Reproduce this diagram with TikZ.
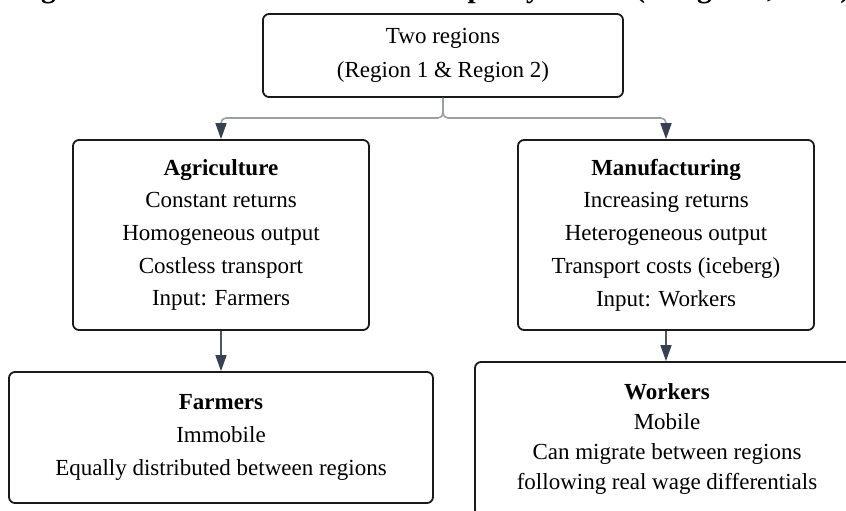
\documentclass[tikz,border=0pt]{standalone}
\usepackage{fontspec}
\setmainfont{Liberation Serif}
\usetikzlibrary{arrows.meta}
\definecolor{boxblack}{HTML}{1A1A1A}
\definecolor{linegray}{HTML}{9CA0A6}
\definecolor{linedark}{HTML}{4B5563}
\definecolor{tipdark}{HTML}{374151}
\begin{document}
\begin{tikzpicture}[x=1pt,y=-1pt,
  box/.style={draw=boxblack, line width=1.8pt, rounded corners=6pt, inner sep=0pt,
    align=center, fill=white, font=\fontsize{23}{32.7}\selectfont},
  conn/.style={line width=1.6pt, -{Triangle[length=16pt,width=11pt,color=tipdark]}},
  ]
\useasboundingbox (0,0) rectangle (846,511);
\node[anchor=base west, inner sep=0pt, font=\fontsize{29.3}{30}\selectfont\bfseries] (title) at (15,-2.5)
  {Figure 1: Structure of the Core-Periphery Model (Krugman, 1991)};
\node[box, minimum width=360pt, minimum height=83pt, font=\fontsize{23}{34}\selectfont] (top) at (443,55.5)
  {Two regions\\(Region 1 \& Region 2)};
\node[box, minimum width=296pt, minimum height=190pt] (agri) at (221,235)
  {\textbf{Agriculture}\\Constant returns\\Homogeneous output\\Costless transport\\Input: Farmers};
\node[box, minimum width=296pt, minimum height=190pt] (manuf) at (666,235)
  {\textbf{Manufacturing}\\Increasing returns\\Heterogeneous output\\Transport costs (iceberg)\\Input: Workers};
\node[box, minimum width=424pt, minimum height=131pt] (farm) at (221,437.5)
  {\textbf{Farmers}\\Immobile\\Equally distributed between regions};
\node[box, minimum width=384pt, minimum height=154pt, font=\fontsize{23}{30}\selectfont] (work) at (667,439)
  {\textbf{Workers}\\Mobile\\Can migrate between regions\\following real wage differentials};
\coordinate (split) at (443,118);
\draw[conn, draw=linegray, rounded corners=5pt] (top.south) -- (split) -| (agri.north);
\draw[conn, draw=linegray, rounded corners=5pt] (top.south) -- (split) -| (manuf.north);
\draw[conn, draw=linedark] (agri.south) -- (farm.north);
\draw[conn, draw=linedark] (manuf.south) -- (manuf.south |- work.north);
\end{tikzpicture}
\end{document}
